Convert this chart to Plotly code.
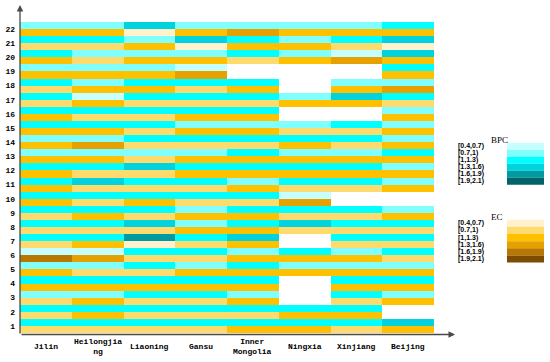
import plotly.graph_objects as go

# ---------------- data ----------------
provinces = ["Jilin", "Heilongjiang", "Liaoning", "Gansu", "Inner Mongolia",
             "Ningxia", "Xinjiang", "Beijing"]
x_labels = ["Jilin", "Heilongjia<br>ng", "Liaoning", "Gansu", "Inner<br>Mongolia",
            "Ningxia", "Xinjiang", "Beijing"]
row_labels = list(range(1, 23))
class_labels = ["[0.4,0.7)", "[0.7,1)", "[1,1.3)", "[1.3,1.6)", "[1.6,1.9)", "[1.9,2.1)"]
N = None

# BPC class index (0..5 -> class_labels), rows 1..22
bpc_jilin        = [2, 2, 1, 2, 1, 0, 2, 2, 2, 2, 2, 2, 1, 1, 2, 2, 2, 2, 1, 2, 2, 1]
bpc_heilongjiang = [2, 2, 1, 2, 1, 0, 2, 2, 2, 2, 3, 2, 1, 1, 2, 2, 0, 1, 1, 1, 2, 1]
bpc_liaoning     = [2, 2, 2, 2, 2, 2, 4, 3, 2, 2, 2, 3, 1, 2, 2, 2, 2, 2, 1, 1, 1, 3]
bpc_gansu        = [2, 2, 2, 2, 1, 2, 2, 1, 1, 2, 2, 2, 1, 2, 1, 2, 2, 2, 0, 1, 3, 1]
bpc_innermongol  = [2, 2, 1, 2, 2, 1, 3, 2, 2, 2, 1, 2, 2, 2, 1, 2, 2, 2, N, 2, 2, 1]
bpc_ningxia      = [2, 2, N, N, 1, 2, N, 3, 2, 0, 2, 2, 1, 2, 1, N, 1, N, N, 1, 1, 1]
bpc_xinjiang     = [2, 2, 2, 2, 1, 1, 2, 2, 2, N, 2, 2, 1, 2, 2, N, 3, 1, N, 0, 2, 1]
bpc_beijing      = [3, N, 1, 2, 1, 2, 2, 2, 1, N, 1, 1, 2, 1, 1, 1, 2, 1, 2, 3, 3, 2]

# EC class index (0..5 -> class_labels), rows 1..22
ec_jilin         = [1, 1, 1, 2, 2, 4, 1, 1, 1, 2, 2, 2, 2, 2, 2, 2, 1, 1, 2, 2, 1, 2]
ec_heilongjiang  = [1, 2, 2, 2, 1, 3, 2, 1, 2, 1, 1, 1, 2, 3, 2, 1, 2, 2, 2, 1, 1, 2]
ec_liaoning      = [1, 1, 1, 2, 1, 1, 0, 1, 1, 2, 1, 1, 1, 1, 1, 1, 1, 2, 2, 2, 2, 0]
ec_gansu         = [1, 1, 1, 2, 2, 1, 1, 2, 2, 1, 1, 2, 2, 1, 2, 2, 1, 1, 3, 2, 0, 2]
ec_innermongol   = [2, 1, 2, 2, 2, 2, 2, 2, 2, 1, 2, 2, 2, 1, 2, 2, 1, 2, N, 1, 2, 3]
ec_ningxia       = [2, 2, N, N, 2, 2, N, 1, 1, 3, 1, 2, 2, 2, 1, N, 2, N, N, 2, 2, 2]
ec_xinjiang      = [1, 2, 1, 2, 2, 2, 1, 1, 1, N, 1, 2, 2, 1, 1, N, 2, 2, N, 3, 1, 2]
ec_beijing       = [2, N, 2, 2, 2, 1, 1, 1, 2, N, 2, 2, 2, 2, 2, 2, 1, 3, 2, 2, 0, 2]

bpc_colors = ["#c6ffff", "#80ffff", "#00ffff", "#00d2de", "#009aa0", "#006468"]
ec_colors = ["#fff2cc", "#ffdb6e", "#ffc000", "#e6a000", "#b87800", "#7c4c00"]

# ---------------- build heatmap ----------------
bpc_cols = [bpc_jilin, bpc_heilongjiang, bpc_liaoning, bpc_gansu, bpc_innermongol,
            bpc_ningxia, bpc_xinjiang, bpc_beijing]
ec_cols = [ec_jilin, ec_heilongjiang, ec_liaoning, ec_gansu, ec_innermongol,
           ec_ningxia, ec_xinjiang, ec_beijing]

ys, z = [], []
for i, n in enumerate(row_labels):
    ys.append(n - 0.25)
    z.append([None if c[i] is None else 6 + c[i] for c in ec_cols])
    ys.append(n + 0.25)
    z.append([None if c[i] is None else c[i] for c in bpc_cols])

all_colors = bpc_colors + ec_colors
ncol = len(all_colors)
colorscale = []
for k, col in enumerate(all_colors):
    colorscale.append([k / ncol, col])
    colorscale.append([(k + 1) / ncol, col])

fig = go.Figure(go.Heatmap(
    x=provinces, y=ys, z=z, colorscale=colorscale,
    zmin=-0.5, zmax=ncol - 0.5, showscale=False, xgap=0, ygap=0,
    hoverongaps=False,
))

# ---------------- layout geometry ----------------
W, H = 550, 362
L, R, T, B = 20, 116, 22, 28.5
pw, ph = W - L - R, H - T - B


def px(x):
    return (x - L) / pw


def py(y):
    return (H - B - y) / ph


shapes, annos = [], []

# axis lines with arrows
annos.append(dict(x=0, y=py(5), xref="paper", yref="paper", text="", showarrow=True,
                  ax=0, ay=335 - 5, axref="pixel", ayref="pixel", arrowhead=2,
                  arrowsize=1, arrowwidth=1.3, arrowcolor="#4a4a4a"))
annos.append(dict(x=px(455), y=py(335), xref="paper", yref="paper", text="", showarrow=True,
                  ax=-(455 - L), ay=0, arrowhead=2, arrowsize=1, arrowwidth=1.3,
                  arrowcolor="#4a4a4a"))

# x category labels
for p, lab in zip(provinces, x_labels):
    annos.append(dict(x=p, y=0, xref="x", yref="paper", text=lab, showarrow=False,
                      yanchor="middle", xanchor="center", yshift=-13.5,
                      font=dict(family="Liberation Mono", size=8, color="black", weight="bold")))


def legend(title, tx, ty, top, bottom, colors):
    annos.append(dict(x=px(tx), y=py(ty), xref="paper", yref="paper", text=title,
                      showarrow=False, xanchor="center", yanchor="middle",
                      font=dict(family="Liberation Serif", size=9, color="black")))
    step = (bottom - top) / len(colors)
    for k, (col, lab) in enumerate(zip(colors, class_labels)):
        y0 = top + k * step
        y1 = y0 + step
        shapes.append(dict(type="rect", xref="paper", yref="paper",
                           x0=px(507), x1=px(544), y0=py(y1), y1=py(y0),
                           fillcolor=col, line=dict(width=0)))
        annos.append(dict(x=px(457), y=py((y0 + y1) / 2), xref="paper", yref="paper",
                          text=lab, showarrow=False, xanchor="left", yanchor="middle",
                          borderpad=0,
                          font=dict(family="Liberation Sans Narrow, Liberation Sans",
                                    size=7, color="black", weight="bold")))


legend("BPC", 499, 140, 143, 185, bpc_colors)
legend("EC", 497, 217, 220, 263, ec_colors)

fig.update_layout(
    width=W, height=H, margin=dict(l=L, r=R, t=T, b=B, pad=0, autoexpand=False),
    paper_bgcolor="white", plot_bgcolor="white",
    xaxis=dict(range=[-0.5, 7.5], showticklabels=False, showgrid=False, zeroline=False,
               showline=False, ticks="", automargin=False),
    yaxis=dict(range=[0.5, 22.5], tickmode="array", tickvals=row_labels,
               ticktext=[str(n) for n in row_labels], showgrid=False, zeroline=False,
               showline=False, ticks="", ticklabelstandoff=4, automargin=False,
               tickfont=dict(family="Liberation Mono", size=8, color="black", weight="bold")),
    shapes=shapes, annotations=annos, showlegend=False,
)

fig.write_html("out.html", config={"displayModeBar": False},
               post_script="document.body.style.margin='0';document.body.style.overflow='hidden';")
